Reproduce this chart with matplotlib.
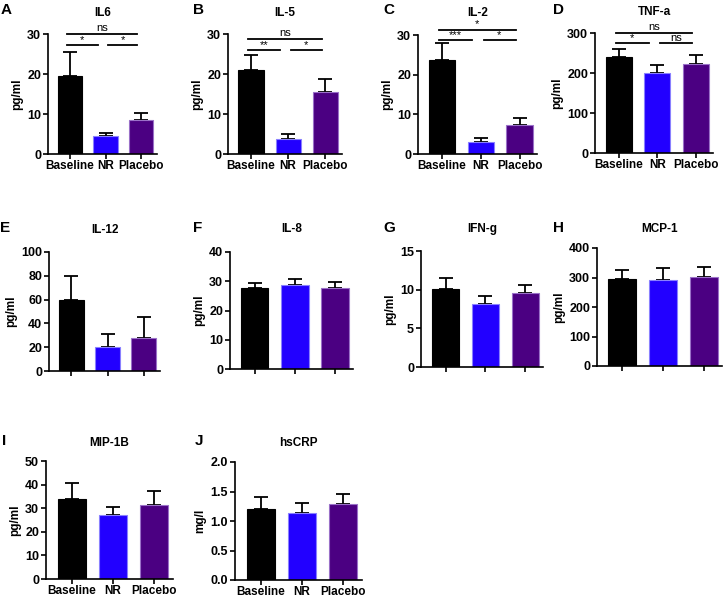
import numpy as np
import matplotlib
matplotlib.use('Agg')
import matplotlib.pyplot as plt
from matplotlib.ticker import MultipleLocator, FormatStrFormatter

plt.rcParams['font.family'] = 'Liberation Sans'
plt.rcParams['font.weight'] = 'bold'

# Data (mean and upper error)
groups = ['Baseline', 'NR', 'Placebo']
letters = ['A', 'B', 'C', 'D', 'E', 'F', 'G', 'H', 'I', 'J']
titles = ['IL6', 'IL-5', 'IL-2', 'TNF-a', 'IL-12', 'IL-8', 'IFN-g', 'MCP-1', 'MIP-1B', 'hsCRP']
units = ['pg/ml'] * 9 + ['mg/l']
means = [[19.4, 4.5, 8.4],
         [20.9, 3.8, 15.6],
         [23.8, 3.1, 7.4],
         [241, 200, 222],
         [60, 20, 28],
         [27.6, 28.6, 27.7],
         [10.1, 8.1, 9.6],
         [296, 291, 302],
         [33.9, 27.0, 31.5],
         [1.21, 1.13, 1.28]]
errs = [[6.2, 0.7, 1.8],
        [3.9, 1.2, 3.2],
        [4.2, 1.0, 1.7],
        [20, 21, 23],
        [20, 11, 17],
        [1.8, 2.2, 2.1],
        [1.4, 1.1, 1.0],
        [31, 40, 34],
        [6.7, 3.3, 5.6],
        [0.19, 0.18, 0.175]]
ymax = [30, 30, 30, 300, 100, 40, 15, 400, 50, 2.0]
ystep = [10, 10, 10, 100, 20, 10, 5, 100, 10, 0.5]

# significance: (top label, top y, left label, right label, lower y)
sig = {0: ('ns', 30.0, '*', '*', 27.3),
       1: ('ns', 28.8, '**', '*', 26.1),
       2: ('*', 31.3, '***', '*', 28.8),
       3: ('ns', 300, '*', 'ns', 275)}

colors = ['#000000', '#2200ff', '#4b0082']
edges = ['#000000', '#8a80ff', '#9a70c8']

# axes boxes in pixels: x0, x1, ytop, ybottom
W, H = 724, 599
boxes = [(48, 157, 34, 154), (228, 342, 34, 154), (418, 537, 35, 154), (595, 713, 33, 153),
         (49, 160, 252, 371), (230, 353, 252, 369), (421, 543, 251, 367), (597, 722, 248, 366),
         (46, 173, 461, 579), (235, 362, 462, 580)]
letter_pos = [(1, 10), (193, 10), (383, 10), (553, 10), (0, 228), (193, 228), (383, 228),
              (553, 228), (2, 441), (195, 441)]
title_y = [13, 13, 13, 12, 230, 229, 229, 229, 443, 443]

fig = plt.figure(figsize=(W / 100, H / 100), dpi=100)
x = np.arange(3)

for i in range(10):
    x0, x1, yt, yb = boxes[i]
    ax = fig.add_axes([x0 / W, 1 - yb / H, (x1 - x0) / W, (yb - yt) / H])
    ax.errorbar(x, means[i], yerr=[[0, 0, 0], errs[i]], fmt='none', ecolor='black',
                elinewidth=1.3, capsize=5, capthick=1.3, zorder=1)
    ax.bar(x, means[i], width=0.68, color=colors, edgecolor=edges, linewidth=0.8, zorder=2)
    ax.set_xlim(-0.62, 2.45)
    ax.set_ylim(0, ymax[i])
    ax.yaxis.set_major_locator(MultipleLocator(ystep[i]))
    if i == 9:
        ax.yaxis.set_major_formatter(FormatStrFormatter('%.1f'))
    ax.set_xticks(x)
    if i in (4, 5, 6, 7):
        ax.set_xticklabels([])
    else:
        ax.set_xticklabels(groups)
    for s in ['top', 'right']:
        ax.spines[s].set_visible(False)
    for s in ['left', 'bottom']:
        ax.spines[s].set_linewidth(1.2)
    ax.tick_params(axis='x', labelsize=8.5, width=1.2, length=3.5, pad=1)
    ax.tick_params(axis='y', labelsize=9, width=1.2, length=3.5, pad=1.5)
    ax.set_ylabel(units[i], fontsize=8.5, fontweight='bold', labelpad=3)
    fig.text((x0 + x1) / 2 / W, 1 - title_y[i] / H, titles[i], fontsize=8.5,
             fontweight='bold', ha='center', va='center')
    fig.text(letter_pos[i][0] / W, 1 - letter_pos[i][1] / H, letters[i], fontsize=11,
             fontweight='bold', va='center', ha='left')

    if i in sig:
        tl, ty, ll, rl, ly = sig[i]
        off = ymax[i] * 0.005
        ax.plot([-0.08, 1.9], [ty, ty], color='black', lw=1.3, clip_on=False)
        ax.plot([-0.08, 0.78], [ly, ly], color='black', lw=1.3, clip_on=False)
        ax.plot([1.07, 1.9], [ly, ly], color='black', lw=1.3, clip_on=False)
        ax.text(0.91, ty + off, tl, ha='center', va='bottom', fontsize=8, fontweight='normal')
        ax.text(0.35, ly, ll, ha='center', va='bottom', fontsize=8, fontweight='normal')
        ax.text(1.48, ly, rl, ha='center', va='bottom', fontsize=8, fontweight='normal')

fig.savefig('out.png', dpi=100)
